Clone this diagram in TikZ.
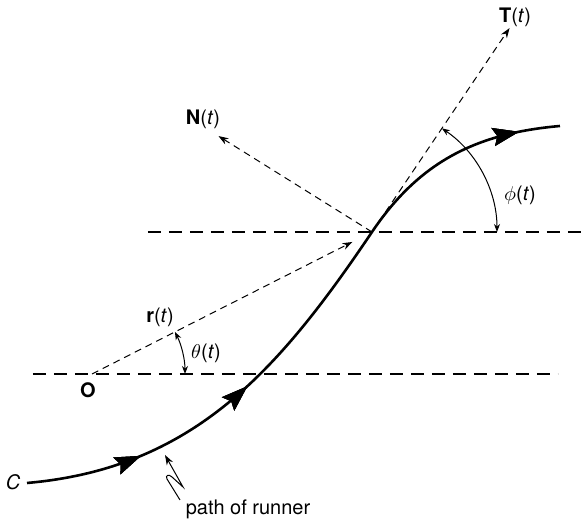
\documentclass[tikz,border=0pt]{standalone}
\usepackage{fontspec}
\setmainfont{TeX Gyre Heros}
\usetikzlibrary{arrows.meta,calc,decorations.markings}

\begin{document}
\begin{tikzpicture}[
    x=0.5pt, y=0.5pt,
    axis/.style={line width=1pt, dash pattern=on 6.5pt off 4pt},
    vec/.style={line width=0.5pt, dash pattern=on 3.5pt off 2.5pt, -{Stealth[length=5pt,width=3.5pt]}},
    angarc/.style={line width=0.5pt, {Stealth[length=4pt,width=3pt]}-{Stealth[length=4pt,width=3pt]}},
    bigtip/.style={decoration={markings, mark=at position #1 with {\arrow{Stealth[length=13pt,width=9pt,inset=2pt]}}}, postaction={decorate}},
    runner/.style={line width=1.3pt},
    lbl/.style={inner sep=1pt},
]
\useasboundingbox (0,0) rectangle (586,523);

\coordinate (O) at (92,149);
\coordinate (P) at (372,291);
\coordinate (start) at (27,40);
\coordinate (finish) at (560,397);

% reference lines through O and through the point on the path
\draw[axis] (33,149) -- (558,149);
\draw[axis] (148,291) -- (586,291);

% path of the runner
\draw[runner, bigtip=0.176, bigtip=0.367, bigtip=0.938]
    (start) to[out=5,in=236] (P) to[out=56,in=185] (finish);

% vectors
\draw[vec, shorten >=11pt] (O) -- (P);
\draw[vec] (P) -- ($(P)+(56:246)$) coordinate (Ttip);
\draw[vec] (P) -- ($(P)+(148:181)$) coordinate (Ntip);

% angles
\draw[angarc] ($(O)+(0:93)$) arc[start angle=0, end angle=26.9, radius=93];
\draw[angarc] ($(P)+(0:125)$) arc[start angle=0, end angle=56, radius=125];

% pointer to the path
\draw[line width=0.5pt, -{Stealth[length=5pt,width=3.5pt]}]
    (180,23) -- (167,44) .. controls (165,48) and (169,49) .. (172,46) -- (183,36) -- (165,68);

\node[lbl] (Clbl) at (13,41) {\textit{C}};
\node[lbl] (Olbl) at (88,133) {\textbf{O}};
\node[lbl] (rlbl) at (160,206) {\textbf{r}(\textit{t})};
\node[lbl] (thlbl) at (206,170) {$\theta$(\textit{t})};
\node[lbl] (Nlbl) at (203,404) {\textbf{N}(\textit{t})};
\node[lbl] (Tlbl) at (515,506) {\textbf{T}(\textit{t})};
\node[lbl] (philbl) at (520,328) {$\phi$(\textit{t})};
\node[lbl] (runlbl) at (248,14) {path of runner};
\end{tikzpicture}
\end{document}
